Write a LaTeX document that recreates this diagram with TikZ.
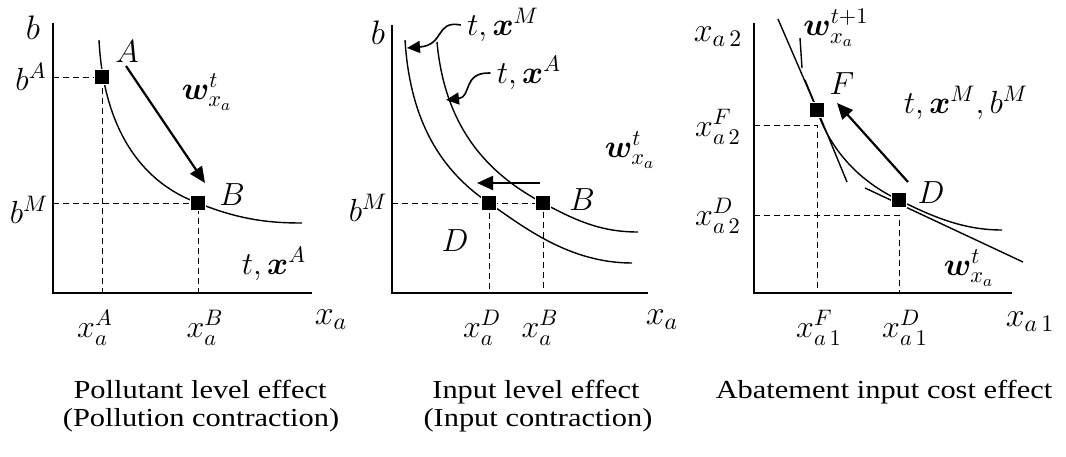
\RequirePackage{fix-cm}
\documentclass[tikz,border=0pt]{standalone}
\usepackage{amsmath,bm,graphicx}
\usepackage[no-math]{fontspec}
\newfontfamily\capfont{Liberation Serif}
\usetikzlibrary{arrows.meta}
\newcommand{\capt}[1]{\capfont\fontsize{13}{15}\selectfont\scalebox{1.17}[1]{#1}}

\begin{document}
\begin{tikzpicture}[x=0.5pt,y=-0.5pt,
    axis/.style={line width=1pt},
    curve/.style={line width=0.7pt},
    guide/.style={line width=0.5pt, dash pattern=on 3pt off 2pt},
    sq/.style={rectangle, fill=black, draw=white, line width=0.4pt, minimum size=7.5pt, inner sep=0pt},
    move/.style={line width=1.1pt, -{Triangle[length=8pt,width=7pt]}},
    pointer/.style={line width=0.8pt, -{Triangle[length=6.5pt,width=6pt]}},
    lbl/.style={font=\fontsize{16}{18}\selectfont, inner sep=0pt},
    axlbl/.style={font=\fontsize{17}{19}\selectfont, inner sep=0pt},
    ticklbl/.style={font=\fontsize{16}{18}\selectfont, inner sep=0pt}]
\useasboundingbox (0,0) rectangle (1066,456);

% ---- pollutant level effect
\coordinate (O1) at (53,293);
\coordinate (y1) at (53,23);
\coordinate (x1) at (312,293);
\coordinate (s1) at (99,40);
\coordinate (A) at (102,77);
\coordinate (B1) at (198,203);
\coordinate (e1) at (302,223);
\draw[axis] (y1) -- (O1) -- (x1);
\draw[guide] (A -| O1) -- (A) -- (A |- O1);
\draw[guide] (B1 -| O1) -- (B1) -- (B1 |- O1);
\draw[curve] (s1) .. controls (103,120) and (135,180) .. (B1)
    .. controls (240,220) and (270,223) .. (e1);
\node[sq] (sqA) at (A) {};
\node[sq] (sqB1) at (B1) {};
\coordinate (m1s) at (126,66);
\coordinate (m1e) at (205,183);
\draw[move] (m1s) -- (m1e);
\node[lbl] (lA) at (127,52) {$A$};
\node[lbl] (lB1) at (232,195) {$B$};
\node[axlbl] (b1) at (33,28) {$b$};
\node[lbl] (bA) at (31,77) {$b^{A}$};
\node[lbl] (bM1) at (29,210) {$b^{M}$};
\node[lbl] (w1) at (207,92) {$\bm{w}^{t}_{x_a}$};
\node[lbl] (tx1) at (274,264) {$t,\bm{x}^{A}$};
\node[ticklbl] (xA) at (95,328) {$x_a^{A}$};
\node[ticklbl] (xB1) at (205,328) {$x_a^{B}$};
\node[axlbl] (xa1) at (331,320) {$x_a$};
\node[anchor=base] (cap1a) at (200,398) {\capt{Pollutant level effect}};
\node[anchor=base] (cap1b) at (201,426) {\capt{(Pollution contraction)}};

% ---- input level effect
\coordinate (O2) at (392,293);
\coordinate (y2) at (392,25);
\coordinate (x2) at (648,293);
\coordinate (sM) at (405,40);
\coordinate (D2) at (489,203);
\coordinate (eM) at (632,263);
\coordinate (sA) at (437,42);
\coordinate (B2) at (543,203);
\coordinate (eA) at (638,232);
\draw[axis] (y2) -- (O2) -- (x2);
\draw[guide] (B2 -| O2) -- (B2) -- (B2 |- O2);
\draw[guide] (D2) -- (D2 |- O2);
\draw[curve] (sM) .. controls (410,120) and (440,170) .. (D2)
    .. controls (525,228) and (570,263) .. (eM);
\draw[curve] (sA) .. controls (445,130) and (490,175) .. (B2)
    .. controls (575,220) and (600,232) .. (eA);
\node[sq] (sqD2) at (D2) {};
\node[sq] (sqB2) at (B2) {};
\coordinate (m2s) at (540,183);
\coordinate (m2e) at (477,183);
\draw[move] (m2s) -- (m2e);
\node[lbl] (tM) at (503,25) {$t,\bm{x}^{M}$};
\node[lbl] (tA) at (529,73) {$t,\bm{x}^{A}$};
\draw[pointer] ([xshift=-3pt]tM.west) .. controls (435,20) and (445,45) .. (407,48);
\draw[pointer] ([xshift=-3pt]tA.west) .. controls (462,72) and (472,97) .. (446,100);
\node[axlbl] (b2) at (378,33) {$b$};
\node[lbl] (bM2) at (368,208) {$b^{M}$};
\node[lbl] (lB2) at (582,200) {$B$};
\node[lbl] (lD2) at (455,241) {$D$};
\node[lbl] (w2) at (630,150) {$\bm{w}^{t}_{x_a}$};
\node[ticklbl] (xD2) at (482,328) {$x_a^{D}$};
\node[ticklbl] (xB2) at (540,328) {$x_a^{B}$};
\node[axlbl] (xa2) at (662,320) {$x_a$};
\node[anchor=base] (cap2a) at (536,398) {\capt{Input level effect}};
\node[anchor=base] (cap2b) at (538,426) {\capt{(Input contraction)}};

% ---- abatement input cost effect
\coordinate (O3) at (754,293);
\coordinate (y3) at (754,23);
\coordinate (x3) at (1012,293);
\coordinate (s3) at (778,19);
\coordinate (F) at (817,110);
\coordinate (D3) at (899,200);
\coordinate (e3) at (1002,230);
\draw[axis] (y3) -- (O3) -- (x3);
\draw[guide] ([yshift=-7.5]F -| O3) -- ([yshift=-7.5]F) -- (F |- O3);
\draw[guide] ([yshift=-7.5]D3 -| O3) -- ([yshift=-7.5]D3) -- (D3 |- O3);
\draw[curve] (s3) .. controls (790,47) and (808,88) .. (F)
    .. controls (830,150) and (860,182) .. (D3)
    .. controls (935,218) and (965,230) .. (e3);
% budget lines
\coordinate (tF1) at (805,80);
\coordinate (tF2) at (847,182);
\coordinate (tD1) at (865,188);
\coordinate (tD2) at (1023,262);
\draw[curve] (tF1) -- (tF2);
\draw[curve] (tD1) -- (tD2);
\node[sq] (sqF) at (F) {};
\node[sq] (sqD3) at (D3) {};
\coordinate (m3s) at (908,182);
\coordinate (m3e) at (837,103);
\draw[move] (m3s) -- (m3e);
\node[lbl] (w3b) at (836,28) {$\bm{w}^{t+1}_{x_a}$};
\coordinate (p3a) at (800,38);
\coordinate (p3b) at (802,68);
\draw[curve] (p3a) -- (p3b);
\node[lbl] (lF) at (842,84) {$F$};
\node[lbl] (lD3) at (931,193) {$D$};
\node[lbl] (txb) at (966,103) {$t,\bm{x}^{M},b^{M}$};
\node[lbl] (w3a) at (969,268) {$\bm{w}^{t}_{x_a}$};
\node[axlbl] (xa2l) at (718,37) {$x_{a\,2}$};
\node[lbl] (xF2) at (718,127) {$x^{F}_{a\,2}$};
\node[lbl] (xD22) at (718,216) {$x^{D}_{a\,2}$};
\node[ticklbl] (xF1) at (819,328) {$x^{F}_{a\,1}$};
\node[ticklbl] (xD1) at (905,328) {$x^{D}_{a\,1}$};
\node[axlbl] (xa1l) at (1030,322) {$x_{a\,1}$};
\node[anchor=base] (cap3) at (884,398) {\capt{Abatement input cost effect}};
\end{tikzpicture}
\end{document}
